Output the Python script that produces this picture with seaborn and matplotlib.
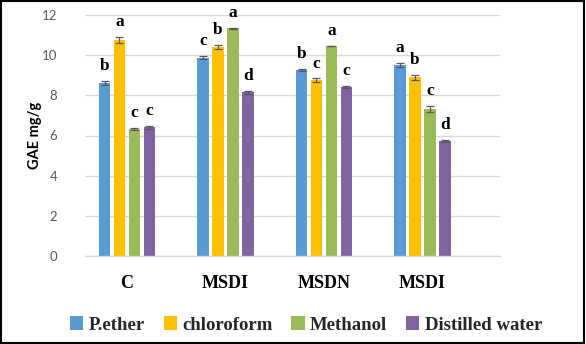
import matplotlib
matplotlib.use("Agg")
import matplotlib.pyplot as plt
import seaborn as sns
import pandas as pd
from matplotlib.patches import Rectangle

groups = ["C", "MSDI", "MSDN", "MSDI"]
solvents = ["P.ether", "chloroform", "Methanol", "Distilled water"]
colors = ["#5B9BD5", "#FFC000", "#9BBB59", "#8064A2"]

pether = [8.60, 9.87, 9.26, 9.51]
chloroform = [10.76, 10.40, 8.76, 8.90]
methanol = [6.32, 11.33, 10.46, 7.32]
water = [6.40, 8.15, 8.42, 5.73]

pether_err = [0.10, 0.08, 0.05, 0.10]
chloroform_err = [0.15, 0.10, 0.08, 0.12]
methanol_err = [0.05, 0.03, 0.02, 0.15]
water_err = [0.08, 0.08, 0.05, 0.03]

pether_lab = ["b", "c", "b", "a"]
chloroform_lab = ["a", "b", "c", "b"]
methanol_lab = ["c", "a", "a", "c"]
water_lab = ["c", "d", "c", "d"]

values = [pether, chloroform, methanol, water]
errs = [pether_err, chloroform_err, methanol_err, water_err]
labs = [pether_lab, chloroform_lab, methanol_lab, water_lab]

keys = [f"g{i}" for i in range(len(groups))]
rows = []
for s, vals, es, ls in zip(solvents, values, errs, labs):
    for k, v, e, l in zip(keys, vals, es, ls):
        rows.append(dict(group=k, solvent=s, value=v, err=e, lab=l))
df = pd.DataFrame(rows)

sns.set_theme(style="white")
fig = plt.figure(figsize=(5.86, 3.44), dpi=100)
ax = fig.add_axes([85/586, 1-256/344, (500-85)/586, (256-15)/344])

sns.barplot(data=df, x="group", y="value", hue="solvent", order=keys,
            hue_order=solvents, palette=colors, errorbar=None,
            width=0.608, gap=0.21, saturation=1, ax=ax, legend=True,
            edgecolor="none", linewidth=0)

# error bars & letters from patch geometry
bars = [p for p in ax.patches if p.get_height() > 0]
bars = bars[:len(df)]
for p, (_, r) in zip(bars, df.iterrows()):
    cx = p.get_x() + p.get_width()/2
    top = p.get_height()
    ax.errorbar(cx, top, yerr=r["err"], color="#595959", lw=0.9,
                capsize=3, capthick=0.9, zorder=5)
    ax.annotate(r["lab"], (cx, top + r["err"]), xytext=(0, 5),
                textcoords="offset points", ha="center", va="bottom",
                fontsize=12.5, fontweight="bold", family="Liberation Serif",
                color="black")

ax.set_ylim(0, 12)
ax.set_yticks([0, 2, 4, 6, 8, 10, 12])
ax.set_xlim(-0.426, 3.787)
ax.yaxis.grid(True, color="#d9d9d9", lw=1)
ax.set_axisbelow(True)
for s in ["top", "right", "left"]:
    ax.spines[s].set_visible(False)
ax.spines["bottom"].set_color("#d9d9d9")
ax.spines["bottom"].set_linewidth(1)

ax.set_xticks(range(len(groups)))
ax.set_xticklabels(groups, fontsize=13, fontweight="bold",
                   family="Liberation Serif", color="black")
ax.tick_params(axis="x", length=0, pad=14)
ax.tick_params(axis="y", length=0, pad=20, labelsize=9.5, labelcolor="#595959")
for t in ax.get_yticklabels():
    t.set_family("Lato")

ax.set_xlabel("")
ax.set_ylabel("GAE mg/g", fontsize=10.5, fontweight="bold", family="Lato",
              color="black", labelpad=0)

leg = ax.legend(loc="center", bbox_to_anchor=(306/586, 1-325/344),
                bbox_transform=fig.transFigure, ncol=4, frameon=False,
                handlelength=0.7, handleheight=0.7, handletextpad=0.3,
                columnspacing=1.0, prop=dict(family="Liberation Serif",
                                             weight="bold", size=13.5))

fig.patches.append(Rectangle((0.002, 0.003), 0.994, 0.993, transform=fig.transFigure,
                             fill=False, edgecolor="black", lw=1.5))

fig.savefig("out.png", dpi=100)
